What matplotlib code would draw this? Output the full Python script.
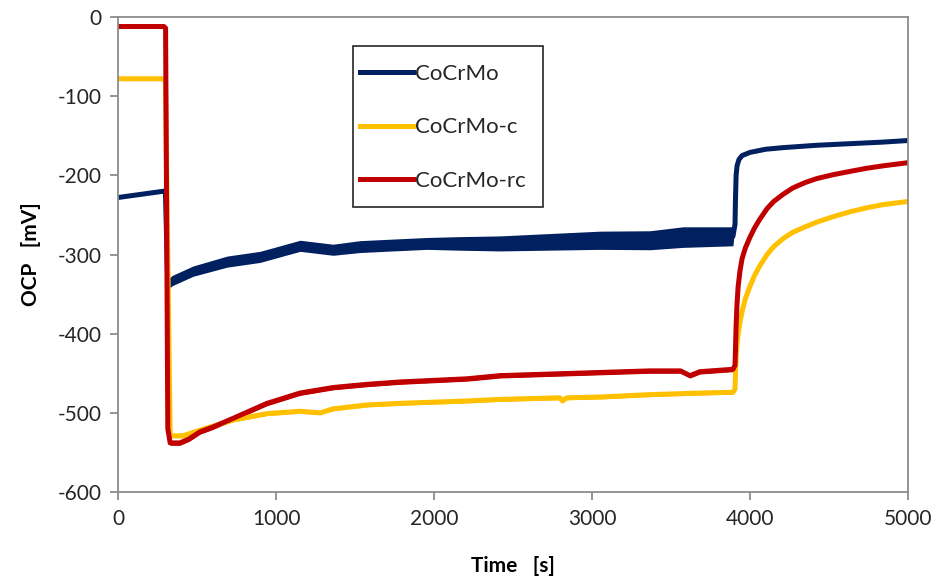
import numpy as np
import matplotlib
matplotlib.use('Agg')
import matplotlib.pyplot as plt
from matplotlib.patches import Rectangle

plt.rcParams['font.family'] = ['Lato', 'DejaVu Sans']
plt.rcParams['axes.unicode_minus'] = False

# OCP readings [mV] vs time [s]
t_base = [0, 290, 300, 315, 342, 475, 690, 899, 1152, 1361, 1532, 1741, 1956,
          2146, 2418, 2734, 3051, 3367, 3576, 3892, 3905, 3908, 3912, 3918,
          3930, 3950, 4000, 4100, 4209, 4424, 4633, 4842, 5000]
ocp_base = [-228, -220, -222, -338, -333, -321, -309, -303, -289, -294, -290,
            -288, -286, -286, -286, -284, -282, -282, -278, -277, -262, -230,
            -200, -188, -180, -175, -171, -167, -165, -162, -160, -158, -156]
# width of the noise band [mV]
spread_base = [0, 0, 0, 13, 13, 13, 14, 14, 14, 14, 15, 15, 15, 17, 19, 21,
               23, 24, 26, 24, 0, 0, 0, 0, 0, 0, 0, 0, 0, 0, 0, 0, 0]

t_c = [0, 278, 300, 330, 350, 410, 519, 728, 835, 943, 1152, 1278, 1361, 1576,
       1785, 2209, 2418, 2797, 2813, 2840, 3051, 3367, 3683, 3892, 3905, 3910,
       3915, 3925, 3937, 3950, 3970, 4000, 4030, 4060, 4108, 4150, 4209, 4270,
       4350, 4424, 4530, 4633, 4740, 4842, 4920, 5000]
ocp_c = [-78, -78, -80, -528, -529, -529, -522, -509, -505, -501, -498, -500,
         -495, -490, -488, -485, -483, -481, -485, -481, -480, -477, -475, -474,
         -470, -440, -420, -400, -385, -372, -356, -340, -326, -315, -300, -290,
         -280, -272, -265, -259, -252, -246, -241, -237, -235, -233]
spread_c = [0, 0, 0, 4, 5, 5, 5, 5, 5, 5, 5, 5, 5, 5, 5, 5, 5, 5, 5, 5, 5, 5,
            5, 5, 0, 0, 0, 0, 0, 0, 0, 0, 0, 0, 0, 0, 0, 0, 0, 0, 0, 0, 0, 0,
            0, 0]

t_rc = [0, 290, 301, 315, 330, 392, 450, 519, 600, 728, 943, 1152, 1361, 1576,
        1785, 2209, 2418, 2734, 3051, 3367, 3560, 3620, 3683, 3892, 3905, 3908,
        3912, 3917, 3925, 3937, 3950, 3970, 4000, 4030, 4060, 4108, 4150, 4209,
        4270, 4350, 4424, 4530, 4633, 4740, 4842, 4920, 5000]
ocp_rc = [-12, -12, -14, -520, -538, -538, -533, -524, -518, -507, -488, -475,
          -468, -464, -461, -457, -453, -451, -449, -447, -447, -453, -448,
          -445, -440, -420, -390, -365, -340, -320, -305, -292, -278, -266,
          -256, -242, -233, -224, -216, -209, -204, -199, -195, -191, -188,
          -186, -184]
spread_rc = [0, 0, 0, 5, 6, 6, 6, 6, 6, 6, 6, 6, 6, 6, 6, 6, 6, 6, 6, 6, 6, 6,
             6, 6, 0, 0, 0, 0, 0, 0, 0, 0, 0, 0, 0, 0, 0, 0, 0, 0, 0, 0, 0, 0,
             0, 0, 0]

series = [
    ('CoCrMo', t_base, ocp_base, spread_base, '#002060'),
    ('CoCrMo-c', t_c, ocp_c, spread_c, '#FFC000'),
    ('CoCrMo-rc', t_rc, ocp_rc, spread_rc, '#C00000'),
]

fig = plt.figure(figsize=(9.39, 5.81), dpi=100)
ax = fig.add_axes([0.1257, 0.1532, 0.8413, 0.8175])

for label, t, v, s, color in series:
    t = np.asarray(t, dtype=float)
    v = np.asarray(v, dtype=float)
    s = np.asarray(s, dtype=float)
    ax.fill_between(t, v - s / 2, v + s / 2, color=color, lw=0)
    ax.plot(t, v, color=color, lw=3.6, label=label, solid_joinstyle='round')

ax.set_xlim(0, 5000)
ax.set_ylim(-600, 0)
ax.set_xticks(np.arange(0, 5001, 1000))
ax.set_yticks(np.arange(-600, 1, 100))

for sp in ax.spines.values():
    sp.set_color('#8c8c8c')
    sp.set_linewidth(1.3)
ax.tick_params(direction='out', length=6, width=1.3, color='#8c8c8c',
               labelsize=15, labelcolor='#262626', pad=6)

ax.set_xlabel('Time   [s]', fontsize=15, fontweight='bold', labelpad=20)
ax.set_ylabel('OCP   [mV]', fontsize=15, fontweight='bold', labelpad=12)

# legend entries without frame, box drawn separately
leg = ax.legend(loc='upper left', bbox_to_anchor=(0.306, 0.901), fontsize=16,
                frameon=False, handlelength=2.4, handletextpad=0.1,
                labelspacing=1.5, borderpad=0, borderaxespad=0)
for txt in leg.get_texts():
    txt.set_color('#262626')
ax.add_patch(Rectangle((0.2975, 0.60), 0.2405, 0.339, transform=ax.transAxes,
                       fill=False, edgecolor='#262626', lw=1.2, zorder=5))

fig.savefig('out.png', dpi=100)
